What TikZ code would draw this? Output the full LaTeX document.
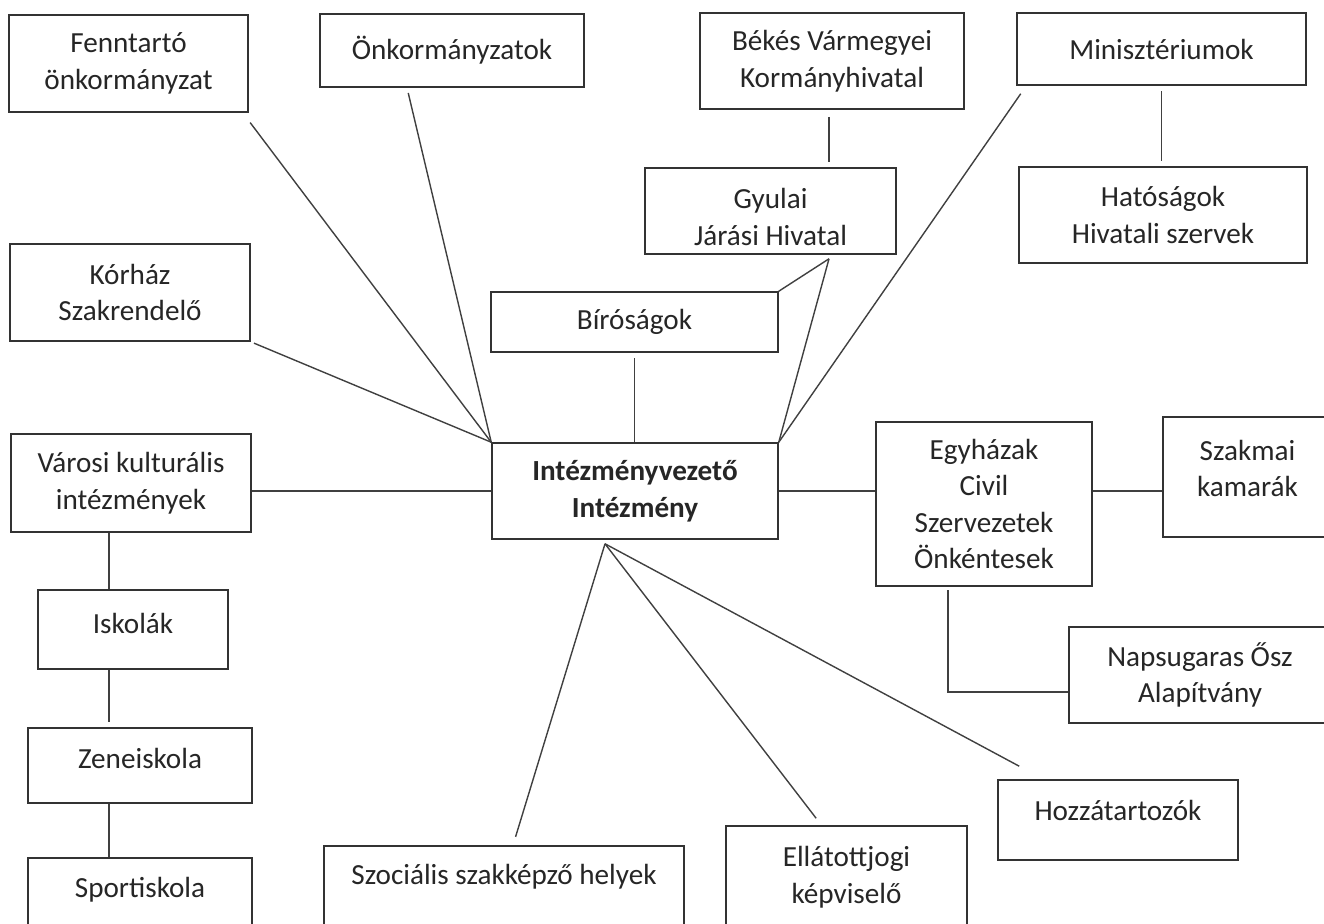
\documentclass[tikz,border=0pt]{standalone}
\usepackage{fontspec}
\setmainfont{Carlito}
\usetikzlibrary{
	positioning,
	calc
}

\begin{document}
\begin{tikzpicture}[
			x=0.02cm, y=-0.02cm,
			box/.style={
				draw=black!80,
				line width=0.9pt,
				fill=white,
				inner sep=2pt,
				align=center,
				text=black!85,
				font=\fontsize{16.6}{20.8}\selectfont
			},
			link/.style={draw=black!75,line width=0.8pt}
			]
			
			\useasboundingbox (0,0) rectangle (1324,923);
			\clip (0,0) rectangle (1324,923);
			
			% top row
			\node[box,minimum width=4.78cm,minimum height=1.94cm] (fenn) at (128.5,63.5)
			{Fenntartó\\önkormányzat};
			
			\node[box,minimum width=5.28cm,minimum height=1.46cm] (onk) at (452,50.5)
			{Önkormányzatok};
			
			\node[box,minimum width=5.28cm,minimum height=1.92cm] (bekes) at (832,61)
			{Békés Vármegyei\\Kormányhivatal};
			
			\node[box,minimum width=5.78cm,minimum height=1.44cm] (minis) at (1161.5,49)
			{Minisztériumok};
			
			\node[box,minimum width=5.02cm,minimum height=1.72cm,text height=39pt] (gyulai) at (770.5,211)
			{Gyulai\\Járási Hivatal};
			
			\node[box,minimum width=5.76cm,minimum height=1.92cm] (hat) at (1163,215)
			{Hatóságok\\Hivatali szervek};
			
			\node[box,minimum width=4.80cm,minimum height=1.94cm] (korhaz) at (130,292.5)
			{Kórház\\Szakrendelő};
			
			\node[box,minimum width=5.74cm,minimum height=1.20cm] (birosag) at (634.5,322)
			{Bíróságok};
			
			% middle row
			\node[box,minimum width=4.80cm,minimum height=1.96cm] (varosi) at (131,483)
			{Városi kulturális\\intézmények};
			
			\node[box,minimum width=5.72cm,minimum height=1.92cm,font=\fontsize{16.6}{20.8}\selectfont\bfseries] (cen) at (635,491)
			{Intézményvezető\\Intézmény};
			
			\node[box,minimum width=4.32cm,minimum height=3.28cm] (egyhaz) at (984,504)
			{Egyházak\\Civil\\Szervezetek\\Önkéntesek};
			
			\node[box,minimum width=3.38cm,minimum height=2.40cm,text depth=10pt] (szakmai) at (1247.5,477)
			{Szakmai\\kamarák};
			
			\node[box,minimum width=5.24cm,minimum height=1.92cm] (napsug) at (1200,675)
			{Napsugaras Ősz\\Alapítvány};
			
			% left column
			\node[box,minimum width=3.80cm,minimum height=1.58cm,text depth=7.4pt] (iskolak) at (133,629.5)
			{Iskolák};
			
			\node[box,minimum width=4.48cm,minimum height=1.50cm,text depth=8.5pt] (zene) at (140,765.5)
			{Zeneiskola};
			
			\node[box,minimum width=4.48cm,minimum height=1.64cm,text depth=13.6pt] (sport) at (140,899)
			{Sportiskola};
			
			% bottom row
			\node[box,minimum width=7.20cm,minimum height=1.88cm,text depth=21.6pt] (szoc) at (504,893)
			{Szociális szakképző helyek};
			
			\node[box,minimum width=4.82cm,minimum height=2.28cm,text depth=9pt] (ellat) at (846.5,883)
			{Ellátottjogi\\képviselő};
			
			\node[box,minimum width=4.80cm,minimum height=1.60cm,text depth=11.4pt] (hozza) at (1118,820)
			{Hozzátartozók};
			
			% lines to the top
			\draw[link,shorten <=7pt] ($(fenn.south east)+(-6,0)$) -- (cen.north west);
			\draw[link,shorten <=3pt] ($(onk.south)+(-45,0)$) -- (cen.north west);
			\draw[link,shorten <=2pt] (korhaz.south east) -- (cen.north west);
			\draw[link,shorten <=3pt] (birosag.south) -- (birosag.south |- cen.north);
			
			\coordinate (gj) at ($(gyulai.south -| bekes.south)+(-3,4)$);
			\draw[link] (gj) -- (birosag.north east);
			\draw[link] (gj) -- (cen.north east);
			\draw[link,shorten <=4pt,shorten >=3pt] ($(bekes.south)+(-3,0)$) -- ($(bekes.south |- gyulai.north)+(-3,0)$);
			\draw[link,shorten <=5.5pt] ($(minis.south west)+(10,0)$) -- (cen.north east);
			\draw[link,shorten <=3pt,shorten >=3pt] (minis.south) -- (minis.south |- hat.north);
			
			% sideways
			\draw[link] (cen.west -| varosi.east) -- (cen.west);
			\draw[link] (cen.east) -- (cen.east -| egyhaz.west);
			\draw[link] (cen.east -| egyhaz.east) -- (cen.east -| szakmai.west);
			
			\coordinate (ev) at ($(egyhaz.south)+(-36,0)$);
			\draw[link,shorten <=2pt] (ev) |- ($(napsug.west)+(0,17)$);
			
			\coordinate (vk) at ($(varosi.south)+(-22,0)$);
			\draw[link] (vk) -- (vk |- iskolak.north);
			\draw[link,shorten >=3pt] (iskolak.south -| vk) -- (zene.north -| vk);
			\draw[link] (zene.south -| vk) -- (sport.north -| vk);
			
			% lines to the bottom
			\coordinate (cb) at ($(cen.south)+(-30,4)$);
			\draw[link,shorten >=5pt] (cb) -- ($(szoc.north)+(9,0)$);
			\draw[link,shorten >=5pt] (cb) -- ($(ellat.north)+(-25,0)$);
			\coordinate (hz) at ($(hozza.north west)+(22,-13)$);
			\draw[link] (cb) -- (hz);
			
		\end{tikzpicture}
\end{document}
